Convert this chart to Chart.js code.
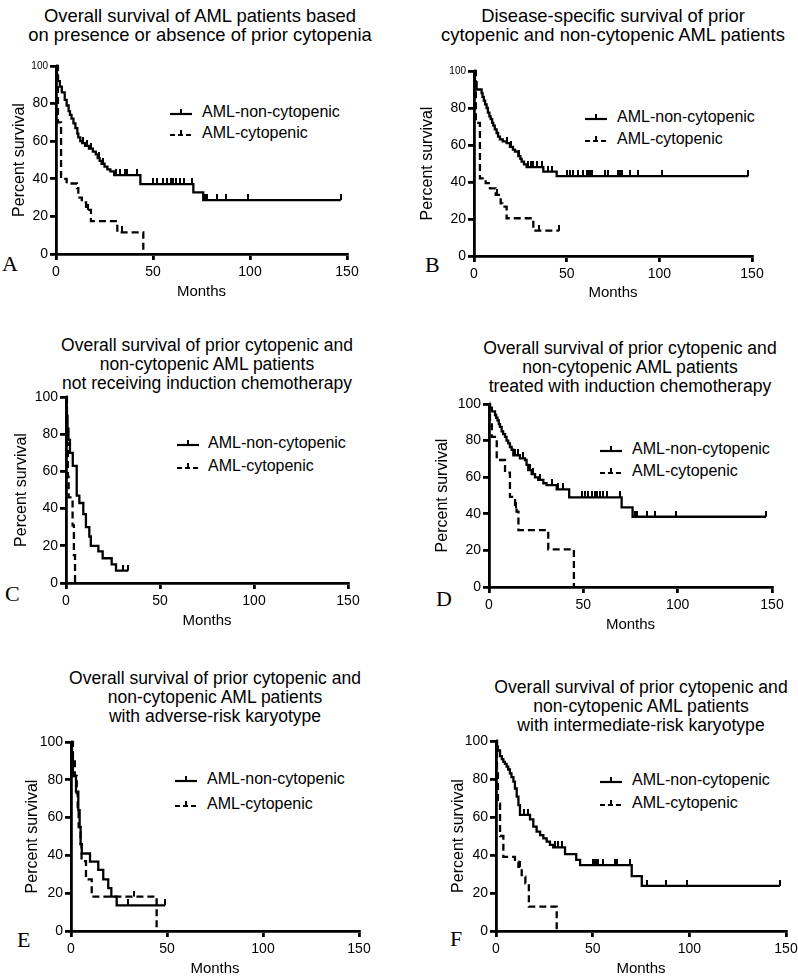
<!DOCTYPE html>
<html>
<head>
<meta charset="utf-8">
<script src="https://cdn.jsdelivr.net/npm/chart.js@4.4.1/dist/chart.umd.min.js"></script>
<style>
  body { margin: 0; background: #fff; }
  #page { position: relative; width: 798px; height: 976px; overflow: hidden; background: #fff;
          font-family: "Liberation Sans", Arial, Helvetica, sans-serif; color: #000; }
  canvas { position: absolute; }
  .title { position: absolute; width: 460px; text-align: center; line-height: 19px; white-space: nowrap; }
  .leg { position: absolute; font-size: 16px; line-height: 20px; white-space: nowrap; }
  .legline { position: absolute; }
  .letter { position: absolute; font-family: "Liberation Serif", "Times New Roman", serif; font-size: 22px; line-height: 22px; }
</style>
</head>
<body>
<div id="page"></div>
<script>
// ---- data ----
const seriesNames = ['AML-non-cytopenic', 'AML-cytopenic'];
const xTicks = [0, 50, 100, 150];
const yTicks = [0, 20, 40, 60, 80, 100];

// A: overall survival, all patients
const aSolidT = [0, 0.5, 1, 2, 3, 4.5, 5.5, 6.5, 7.2, 8, 9, 10, 11, 11.5, 12.5, 13.5, 15, 17, 19, 20.5, 21.5, 22.5, 23.5, 25, 26.5, 28, 30, 43.5, 70.8, 75.9, 146.8];
const aSolidS = [100, 95, 92, 89, 86, 82, 79, 76, 74, 72, 69.5, 67, 64, 62, 60, 59, 57.5, 56, 54.5, 53, 51, 49.5, 48, 46.5, 45, 44, 42, 37.2, 32.8, 28.7, 28.7];
const aSolidC = [14, 16, 18, 22, 24, 31, 33, 35.5, 36.5, 41.5, 50, 52, 55, 57, 59.5, 60.5, 62, 64, 66, 70, 77, 78, 83, 87.6, 99, 146.8];
const aDashT = [0, 1, 2.6, 5.5, 10.8, 11.5, 13.3, 15.5, 18, 31.6, 45];
const aDashS = [100, 70, 40, 37.5, 35, 30, 27.5, 23.5, 17.5, 11.5, 0];
const aDashC = [16.5, 34];

// B: disease-specific survival
const bSolidT = [0, 0.5, 1.4, 4.1, 4.6, 5.3, 6, 6.8, 7.5, 8.3, 9, 9.8, 10.4, 11.2, 12.2, 13, 14, 15.5, 17.6, 19.4, 21, 22.1, 23.9, 25, 25.7, 27, 28.4, 37.4, 44.6, 148];
const bSolidS = [100, 94, 90, 88, 86, 84, 82, 80, 77.5, 75.5, 74, 72, 70.5, 68.5, 66.5, 64.5, 63, 62, 61, 59, 57.5, 56.5, 54, 52.5, 51, 49.5, 48, 45.6, 43.2, 43.2];
const bSolidC = [18, 20, 24.5, 29, 30.5, 32, 34, 36.5, 40, 42, 50, 52, 53.6, 56.3, 59, 60.8, 61.7, 62.6, 63.5, 70.7, 72.5, 77.9, 78.8, 79.7, 84.2, 88.7, 101.3, 148];
const bDashT = [0, 1, 3.2, 6.3, 8.6, 11.7, 14.4, 15.3, 17.6, 32, 46];
const bDashS = [100, 72, 42, 39.4, 36.6, 33, 28.5, 26.7, 20.4, 13.7, 13.7];
const bDashC = [12.5, 35, 46];

// C: no induction chemotherapy
const cSolidT = [0, 0.3, 0.8, 1.3, 2.1, 3.6, 5.7, 7.1, 9.2, 10.6, 12.4, 13.2, 17.2, 19.5, 24.3, 26.6, 33.1];
const cSolidS = [100, 90, 83, 77, 70, 63, 47, 43, 37, 30, 25, 20, 17, 13.3, 10, 6.7, 6.7];
const cSolidC = [30.5, 33.1];
const cDashT = [0, 0.5, 1, 1.4, 3.5, 4.2, 4.8];
const cDashS = [100, 75, 57, 46, 31, 15, 0];
const cDashC = [];

// D: induction chemotherapy
const dSolidT = [0, 0.5, 1.5, 3.2, 3.8, 4.5, 5.2, 5.8, 6.7, 7.5, 8.5, 9.3, 10.2, 11.1, 12, 12.9, 16.4, 19.1, 19.9, 20.8, 22.6, 24.4, 26.1, 28.8, 30.5, 35.9, 42.5, 70.3, 76.1, 146.8];
const dSolidS = [100, 98, 96, 94, 92.5, 91, 89, 87.5, 85, 83.5, 82, 80, 78.5, 76.5, 75, 72, 70.3, 69.4, 66.7, 63.9, 61.7, 59.9, 58.5, 56.7, 55.7, 53.4, 49, 43.5, 38.4, 38.4];
const dSolidC = [14, 15.2, 18, 21.5, 23.5, 27, 33.6, 36.5, 39, 49.1, 50.9, 52.6, 54.4, 56.2, 57.1, 58.8, 60.6, 62.4, 69.4, 77.6, 78.5, 83.6, 88, 99.1, 146.8];
const dDashT = [0, 0.5, 1.5, 4.1, 8.5, 11.1, 13.8, 14.6, 15.6, 31.4, 45];
const dDashS = [100, 90, 82, 69.4, 62.5, 49.3, 43, 41.2, 31.1, 20.6, 0];
const dDashC = [14.2];

// E: adverse-risk karyotype
const eSolidT = [0, 0.5, 1, 2.6, 3.8, 4.5, 5, 5.6, 9.9, 14.2, 16.8, 19.4, 21, 23.8, 49];
const eSolidS = [100, 91, 82, 73.7, 64, 55, 46, 41, 36.7, 32.3, 27.3, 22.7, 18.2, 13.6, 13.6];
const eSolidC = [29.9, 49];
const eDashT = [0, 1, 2, 3, 3.5, 4, 5, 5.5, 7.8, 10.8, 44.6];
const eDashS = [100, 91, 82, 73, 64, 55, 46, 37, 27.3, 18.2, 0];
const eDashC = [32.8];

// F: intermediate-risk karyotype
const fSolidT = [0, 0.5, 1, 2.1, 3, 3.8, 4.6, 5.5, 6.3, 7.2, 8, 9, 9.8, 10.7, 11.6, 12.4, 17.6, 19.3, 21, 22.8, 24.5, 26.2, 27.9, 29.6, 35.7, 41.5, 43.5, 70.2, 75.4, 146.9];
const fSolidS = [100, 97, 95, 92, 90.5, 89, 88, 86.5, 85, 83, 81, 78.6, 75, 70.7, 66.3, 61.1, 58.8, 54.9, 52.3, 50.5, 48.8, 47, 45.3, 44, 40.5, 37.4, 34.7, 28.9, 23.7, 23.7];
const fSolidC = [14.6, 16.3, 30.5, 32.2, 34, 50.3, 51, 52.1, 53, 55.5, 61.6, 62.4, 69.3, 78, 87.9, 99, 146.9];
const fDashT = [0, 0.5, 1, 2.1, 3.8, 9.8, 11.6, 13.3, 15.2, 17, 31.4];
const fDashS = [100, 83, 67, 50, 39, 36.5, 33.8, 28.6, 25.1, 12.8, 0];
const fDashC = [12.5];

const FONT = '"Liberation Sans", Arial, Helvetica, sans-serif';

// ---- panel layout ----
const panels = [
  { letter: 'A', lx: 2, ly: 253, small100: true,
    title: ['Overall survival of AML patients based', 'on presence or absence of prior cytopenia'], tcx: 200, ty: 15, ts: 18.4,
    ytx: 20, x0: 56, x1: 347, yTop: 66, y0: 254, monthsY: 292,
    legX: 170, legTX: 202, legY: [112, 133],
    solid: [aSolidT, aSolidS, aSolidC], dash: [aDashT, aDashS, aDashC] },
  { letter: 'B', lx: 425, ly: 254, small100: true,
    title: ['Disease-specific survival of prior', 'cytopenic and non-cytopenic AML patients'], tcx: 613, ty: 15, ts: 18.4,
    ytx: 428, x0: 474, x1: 752, yTop: 71, y0: 256, monthsY: 293,
    legX: 585, legTX: 617, legY: [117, 139],
    solid: [bSolidT, bSolidS, bSolidC], dash: [bDashT, bDashS, bDashC] },
  { letter: 'C', lx: 5, ly: 583, small100: false,
    title: ['Overall survival of prior cytopenic and', 'non-cytopenic AML patients', 'not receiving induction chemotherapy'], tcx: 207, ty: 345, ts: 17.5,
    ytx: 22, x0: 66, x1: 348, yTop: 397, y0: 583, monthsY: 621,
    legX: 177, legTX: 208, legY: [443, 466],
    solid: [cSolidT, cSolidS, cSolidC], dash: [cDashT, cDashS, cDashC] },
  { letter: 'D', lx: 436, ly: 588, small100: false,
    title: ['Overall survival of prior cytopenic and', 'non-cytopenic AML patients', 'treated with induction chemotherapy'], tcx: 630, ty: 348, ts: 17.6,
    ytx: 443, x0: 489, x1: 772, yTop: 404, y0: 587, monthsY: 625,
    legX: 600, legTX: 632, legY: [449, 471],
    solid: [dSolidT, dSolidS, dSolidC], dash: [dDashT, dDashS, dDashC] },
  { letter: 'E', lx: 17, ly: 929, small100: false,
    title: ['Overall survival of prior cytopenic and', 'non-cytopenic AML patients', 'with adverse-risk karyotype'], tcx: 215, ty: 678, ts: 17.5,
    ytx: 33, x0: 71, x1: 359, yTop: 742, y0: 931, monthsY: 969,
    legX: 175, legTX: 207, legY: [779, 804],
    solid: [eSolidT, eSolidS, eSolidC], dash: [eDashT, eDashS, eDashC] },
  { letter: 'F', lx: 450, ly: 928, small100: false,
    title: ['Overall survival of prior cytopenic and', 'non-cytopenic AML patients', 'with intermediate-risk karyotype'], tcx: 641, ty: 687, ts: 17.6,
    ytx: 459, x0: 496, x1: 786, yTop: 741, y0: 931, monthsY: 969,
    legX: 600, legTX: 632, legY: [780, 803],
    solid: [fSolidT, fSolidS, fSolidC], dash: [fDashT, fDashS, fDashC] }
];

function stepPoints(t, s) {
  return t.map((v, i) => ({ x: v, y: s[i] }));
}
function survAt(t, s, time) {
  let v = s[0];
  for (let i = 0; i < t.length; i++) if (t[i] <= time) v = s[i];
  return v;
}
function censorPoints(t, s, c) {
  return c.map(v => ({ x: v, y: survAt(t, s, v) }));
}

// little upward tick used for censored observations
const tickMark = document.createElement('canvas');
tickMark.width = 2; tickMark.height = 12;
const tctx = tickMark.getContext('2d');
tctx.fillStyle = '#000';
tctx.fillRect(0, 0, 2, 6);

function legendSample(dashed) {
  const d = dashed ? ' stroke-dasharray="5 3"' : '';
  return '<svg width="22" height="12"><line x1="0" y1="8" x2="22" y2="8" stroke="#000" stroke-width="2.2"' + d + '/>' +
         '<line x1="11" y1="8.5" x2="11" y2="3" stroke="#000" stroke-width="2"/></svg>';
}

const page = document.getElementById('page');

panels.forEach(p => {
  // title
  const t = document.createElement('div');
  t.className = 'title';
  t.style.left = (p.tcx - 230) + 'px';
  t.style.top = (p.ty - 9.5) + 'px';
  t.style.fontSize = p.ts + 'px';
  t.innerHTML = p.title.join('<br>');
  page.appendChild(t);

  // letter
  const l = document.createElement('div');
  l.className = 'letter';
  l.style.left = p.lx + 'px';
  l.style.top = p.ly + 'px';
  l.textContent = p.letter;
  page.appendChild(l);

  // legend
  seriesNames.forEach((name, i) => {
    const s = document.createElement('div');
    s.className = 'legline';
    s.style.left = p.legX + 'px';
    s.style.top = (p.legY[i] - 8) + 'px';
    s.innerHTML = legendSample(i === 1);
    page.appendChild(s);
    const tx = document.createElement('div');
    tx.className = 'leg';
    tx.style.left = p.legTX + 'px';
    tx.style.top = (p.legY[i] - 10) + 'px';
    tx.textContent = name;
    page.appendChild(tx);
  });

  // chart canvas
  const left = Math.round(p.ytx - 9.6);
  const top = p.yTop - 12;
  const hx = p.monthsY + 9 - p.y0;
  const w = p.x1 - left + 20;
  const h = p.y0 - top + hx;
  const wy = p.x0 - left;
  const cv = document.createElement('canvas');
  cv.width = w; cv.height = h;
  cv.style.left = left + 'px';
  cv.style.top = top + 'px';
  cv.style.width = w + 'px';
  cv.style.height = h + 'px';
  page.appendChild(cv);

  const [sT, sS, sC] = p.solid;
  const [dT, dS, dC] = p.dash;

  new Chart(cv, {
    type: 'line',
    data: {
      datasets: [
        { label: seriesNames[0], data: stepPoints(sT, sS), stepped: true, borderColor: '#000', borderWidth: 2.3,
          pointRadius: 0, fill: false, clip: false },
        { label: seriesNames[1], data: stepPoints(dT, dS), stepped: true, borderColor: '#000', borderWidth: 2.3,
          borderDash: [7, 4], pointRadius: 0, fill: false, clip: false },
        { data: censorPoints(sT, sS, sC), showLine: false, pointStyle: tickMark, pointRadius: 3, clip: false },
        { data: censorPoints(dT, dS, dC), showLine: false, pointStyle: tickMark, pointRadius: 3, clip: false }
      ]
    },
    options: {
      responsive: false,
      animation: false,
      devicePixelRatio: 1,
      layout: { padding: { left: 0, top: 12, right: 20, bottom: 0 } },
      plugins: { legend: { display: false }, tooltip: { enabled: false } },
      scales: {
        x: {
          type: 'linear', min: 0, max: 150,
          afterBuildTicks: s => { s.ticks = xTicks.map(v => ({ value: v })); },
          afterFit: s => { s.height = hx; },
          ticks: { color: '#000', padding: 4, maxRotation: 0, font: { family: FONT, size: 14 } },
          grid: { drawOnChartArea: false, drawTicks: true, tickLength: 6, tickWidth: 2.8, tickColor: '#000', lineWidth: 2.8, color: '#000' },
          border: { display: true, color: '#000', width: 2.8 },
          title: { display: true, text: 'Months', color: '#000', padding: 0, font: { family: FONT, size: 15 } }
        },
        y: {
          type: 'linear', min: 0, max: 100,
          afterBuildTicks: s => { s.ticks = yTicks.map(v => ({ value: v })); },
          afterFit: s => { s.width = wy; },
          ticks: { color: '#000', padding: 2,
                   font: c => ({ family: FONT, size: (p.small100 && c.tick && c.tick.value === 100) ? 10 : 14 }) },
          grid: { drawOnChartArea: false, drawTicks: true, tickLength: 6, tickWidth: 2.8, tickColor: '#000', lineWidth: 2.8, color: '#000' },
          border: { display: true, color: '#000', width: 2.8 },
          title: { display: true, text: 'Percent survival', color: '#000', padding: 0, font: { family: FONT, size: 16 } }
        }
      }
    }
  });
});
</script>
</body>
</html>
